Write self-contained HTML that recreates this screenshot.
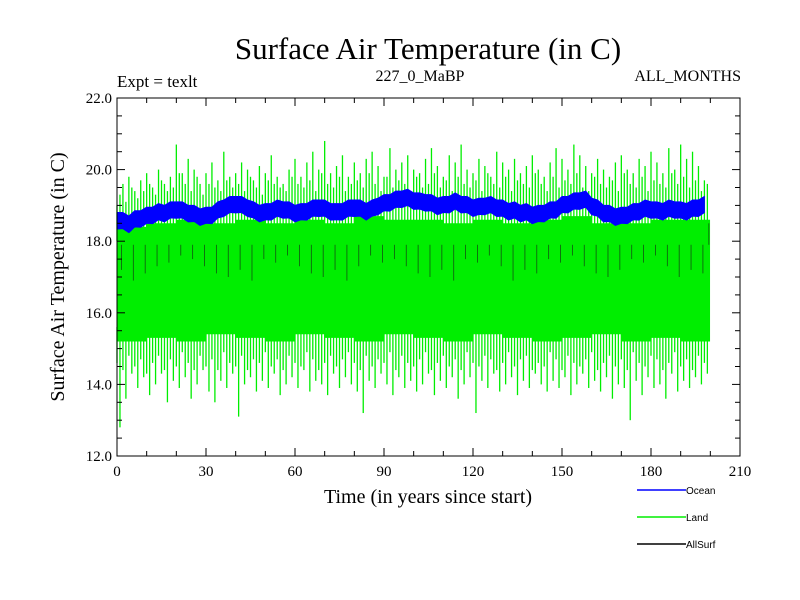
<!DOCTYPE html>
<html><head><meta charset="utf-8"><style>
html,body{margin:0;padding:0;background:#fff;}
svg{display:block;}
text{font-family:"Liberation Serif",serif;fill:#000;}
.leg{font-family:"Liberation Sans",sans-serif;font-size:10px;}
</style></head><body>
<svg id="chart" width="800" height="600" viewBox="0 0 800 600">
<text x="428" y="59" font-size="31" text-anchor="middle">Surface Air Temperature (in C)</text>
<text x="117" y="87" font-size="17">Expt = texlt</text>
<text x="420" y="81" font-size="16" text-anchor="middle">227_0_MaBP</text>
<text x="741" y="81" font-size="16" text-anchor="end">ALL_MONTHS</text>
<text transform="translate(64,277) rotate(-90)" font-size="20" text-anchor="middle">Surface Air Temperature (in C)</text>
<text x="428" y="503" font-size="20" text-anchor="middle">Time (in years since start)</text>
<g id="plot"></g>
<g id="axes"></g>
<g>
<g><line x1="637" y1="490" x2="686" y2="490" stroke="#0000ff" stroke-width="1.5"/><text class="leg" x="686" y="494">Ocean</text></g>
<g><line x1="637" y1="517" x2="686" y2="517" stroke="#00ee00" stroke-width="1.5"/><text class="leg" x="686" y="521">Land</text></g>
<g><line x1="637" y1="544" x2="686" y2="544" stroke="#000" stroke-width="1.5"/><text class="leg" x="686" y="548">AllSurf</text></g>
</g>
</svg>
<script>
// 2-year bins, years 0..198
const landMax=[19.0,19.6,19.8,19.4,19.7,19.9,19.5,20.0,19.6,19.8,20.7,19.9,20.3,20.0,19.6,19.9,20.2,19.7,20.5,19.8,19.9,20.2,20.0,19.7,20.1,19.9,20.4,19.8,19.6,20.0,20.3,19.8,20.2,20.5,20.0,20.8,19.9,20.1,20.4,19.8,20.2,19.9,20.3,20.5,20.1,19.8,20.6,20.0,20.2,20.4,20.0,19.9,20.3,20.6,20.1,19.8,20.4,20.2,20.7,20.0,19.9,20.3,20.1,19.8,20.5,20.2,20.0,20.3,19.9,20.1,20.4,20.0,19.8,20.2,20.6,20.3,20.0,20.7,20.4,20.1,19.9,20.3,20.0,19.8,20.2,20.4,20.0,19.9,20.3,20.1,20.5,20.2,19.9,20.6,20.0,20.7,20.3,20.5,20.1,19.7];
const landMax2=[19.3,19.1,19.5,19.2,19.4,19.6,19.3,19.7,19.4,19.5,19.9,19.6,19.4,19.8,19.3,19.6,19.5,19.4,19.7,19.5,19.6,19.4,19.8,19.5,19.3,19.7,19.6,19.5,19.4,19.8,19.6,19.5,19.7,19.4,19.9,19.6,19.5,19.8,19.4,19.6,19.7,19.5,19.9,19.6,19.4,19.8,19.5,19.7,19.6,19.4,19.8,19.5,19.6,19.9,19.5,19.7,19.4,19.8,19.6,19.5,19.7,19.4,19.9,19.6,19.5,19.8,19.4,19.7,19.6,19.5,19.9,19.6,19.4,19.8,19.5,19.7,19.6,19.9,19.5,19.4,19.8,19.6,19.5,19.7,19.4,19.9,19.6,19.5,19.8,19.4,19.7,19.6,19.5,19.9,19.6,19.8,19.5,19.7,19.4,19.6];
const landMin=[12.8,13.6,14.3,13.9,14.2,13.7,14.0,14.3,13.5,14.1,13.9,14.2,13.6,14.0,14.4,13.8,13.5,14.1,13.9,14.3,13.1,14.0,14.2,13.8,14.1,13.9,14.3,13.7,14.0,14.2,13.9,14.4,13.8,14.1,14.0,13.7,14.3,13.9,14.2,14.0,13.8,13.2,14.1,13.9,14.3,14.0,13.7,14.2,13.9,14.1,13.8,14.0,14.3,13.7,14.1,13.9,14.2,13.6,14.0,14.2,13.2,14.1,13.9,14.3,13.8,14.0,14.2,13.7,14.1,13.9,14.3,14.0,13.8,14.1,13.9,14.2,13.7,14.0,14.3,13.9,14.1,13.8,14.2,13.6,14.0,13.9,13.0,14.1,13.7,14.2,13.9,14.0,13.6,14.3,13.8,14.1,13.9,14.2,14.0,14.3];
const landMin2=[14.6,14.4,14.8,14.5,14.7,14.3,14.6,14.8,14.4,14.7,14.5,14.9,14.6,14.4,14.8,14.5,14.7,14.4,14.9,14.6,14.5,14.8,14.4,14.7,14.6,14.9,14.5,14.7,14.4,14.8,14.6,14.5,14.9,14.7,14.4,14.6,14.8,14.5,14.7,14.9,14.6,14.4,14.8,14.5,14.7,14.6,14.9,14.4,14.8,14.6,14.5,14.7,14.9,14.4,14.6,14.8,14.5,14.7,14.4,14.9,14.6,14.5,14.8,14.7,14.4,14.6,14.9,14.5,14.7,14.8,14.4,14.6,14.5,14.9,14.7,14.4,14.8,14.6,14.5,14.7,14.9,14.4,14.6,14.8,14.5,14.7,14.4,14.9,14.6,14.5,14.8,14.7,14.4,14.6,14.9,14.5,14.7,14.4,14.8,14.6];
// 10-year bins: solid land envelope
const landLo=[15.2,15.3,15.2,15.4,15.3,15.2,15.4,15.3,15.2,15.4,15.3,15.2,15.4,15.3,15.2,15.3,15.4,15.2,15.3,15.2];
const landHi=[18.4,18.5,18.6,18.5,18.6,18.5,18.6,18.5,18.7,18.6,18.6,18.5,18.6,18.5,18.6,18.7,18.5,18.5,18.6,18.6];
const oceanMean=[18.6,18.55,18.5,18.6,18.65,18.7,18.75,18.8,18.8,18.85,18.9,18.85,18.8,18.75,18.7,18.7,18.75,18.85,18.95,19.0,19.05,19.0,18.95,18.85,18.8,18.8,18.85,18.9,18.9,18.85,18.8,18.8,18.85,18.9,18.95,18.9,18.85,18.8,18.85,18.9,18.95,18.9,18.85,18.9,19.0,19.05,19.1,19.15,19.2,19.2,19.15,19.1,19.1,19.05,19.0,19.0,19.05,19.1,19.05,19.0,18.95,18.95,19.0,19.0,18.95,18.9,18.85,18.85,18.8,18.8,18.75,18.75,18.8,18.85,18.9,19.0,19.05,19.1,19.15,19.15,19.0,18.9,18.8,18.75,18.7,18.7,18.75,18.8,18.85,18.9,18.9,18.85,18.85,18.9,18.9,18.85,18.85,18.9,18.95,19.0];
const allMin=[17.2,17.4,16.9,17.6,17.1,17.5,17.3,16.8,17.4,17.0,17.6,17.2,17.5,16.9,17.3,17.6,17.1,17.4,17.0,17.5,17.2,17.6,16.9,17.3,17.5,17.0,17.4,17.2,17.6,16.9,17.3,17.5,17.1,17.4,17.0,17.6,17.2,17.4,16.9,17.5,17.3,17.1,17.6,17.0,17.4,17.2,17.5,16.9,17.3,17.6,17.1,17.4,17.0,17.5,17.2,17.6,16.9,17.3,17.5,17.1,17.4,17.2,17.6,17.0,17.3,17.5,16.9,17.4,17.2,17.6,17.1,17.3,17.5,17.0,17.4,17.2,17.6,16.9,17.3,17.5,17.1,17.4,17.0,17.6,17.2,17.3,17.5,16.9,17.4,17.1,17.6,17.2,17.3,17.5,17.0,17.4,17.2,17.6,17.1,18.5];
const xTicks=[0,30,60,90,120,150,180,210];
const yTicks=[12.0,14.0,16.0,18.0,20.0,22.0];

const X0=117,X1=740,Y0=456,Y1=98;
const sx=v=>X0+(v-0)/(210-0)*(X1-X0);
const sy=v=>Y0-(v-12)/(22-12)*(Y0-Y1);
const NS='http://www.w3.org/2000/svg';
const plot=document.getElementById('plot'), axes=document.getElementById('axes');
function mk(tag,attrs,parent){const e=document.createElementNS(NS,tag);for(const k in attrs)e.setAttribute(k,attrs[k]);parent.appendChild(e);return e;}

// land envelope band
let pts=[];
landLo.forEach((v,i)=>{pts.push(sx(Math.min(i*10,199.9))+','+sy(v));pts.push(sx(Math.min(i*10+10,199.9))+','+sy(v));});
for(let i=landHi.length-1;i>=0;i--){pts.push(sx(Math.min(i*10+10,199.9))+','+sy(landHi[i]));pts.push(sx(Math.min(i*10,199.9))+','+sy(landHi[i]));}
const band=mk('polygon',{points:pts.join(' '),fill:'#00ee00'},plot);



// allsurf spikes (behind land)
allMin.forEach((v,i)=>{
  if(i%2 && i!==allMin.length-1) return;
  const yr=i*2+1.5;
  const l=mk('line',{x1:sx(yr),x2:sx(yr),y1:sy(v),y2:sy(17.9),stroke:'#115511','stroke-width':0.8},plot);
  
  
});

// land spikes
landMax.forEach((v,i)=>{
  const yr=i*2;
  const specs=[[yr,v,18.0],[yr+1,landMax2[i],18.0]];
  specs.forEach(s=>{
    const l=mk('line',{x1:sx(s[0]),x2:sx(s[0]),y1:sy(s[1]),y2:sy(s[2]),stroke:'#00ee00','stroke-width':1.3},plot);
    
    
  });
  const lows=[[yr+1,landMin[i]],[yr,landMin2[i]]];
  lows.forEach(s=>{
    const l2=mk('line',{x1:sx(s[0]),x2:sx(s[0]),y1:sy(s[1]),y2:sy(15.6),stroke:'#00ee00','stroke-width':1.3},plot);
    
    
  });
});
// ocean band
let op=[];
oceanMean.forEach((v,i)=>op.push(sx(i*2)+','+sy(v+0.2+(i%2?0.05:0))));
for(let i=oceanMean.length-1;i>=0;i--)op.push(sx(i*2)+','+sy(oceanMean[i]-0.2-(i%2?0:0.06)));
const ocean=mk('polygon',{points:op.join(' '),fill:'#0000ff',stroke:'#0000ff','stroke-width':1,'stroke-linejoin':'round'},plot);



// frame
const fr=mk('rect',{x:X0,y:Y1,width:X1-X0,height:Y0-Y1,fill:'none',stroke:'#000','stroke-width':1},axes);


for(let v=0;v<=210;v+=10){
  const major=v%30===0, L=major?8:5;
  mk('line',{x1:sx(v),x2:sx(v),y1:Y0,y2:Y0-L,stroke:'#000'},axes);
  mk('line',{x1:sx(v),x2:sx(v),y1:Y1,y2:Y1+L,stroke:'#000'},axes);
}
xTicks.forEach(v=>{
  const t=mk('text',{x:sx(v),y:Y0+20,'font-size':15,'text-anchor':'middle'},axes);t.textContent=v;
  
  
});
for(let v=12;v<=22.001;v+=0.5){
  const major=Math.abs(v-Math.round(v/2)*2)<0.01, L=major?8:5;
  mk('line',{x1:X0,x2:X0+L,y1:sy(v),y2:sy(v),stroke:'#000'},axes);
  mk('line',{x1:X1,x2:X1-L,y1:sy(v),y2:sy(v),stroke:'#000'},axes);
}
yTicks.forEach(v=>{
  const t=mk('text',{x:X0-5,y:sy(v)+5,'font-size':15,'text-anchor':'end'},axes);t.textContent=v.toFixed(1);
  
  
});
</script>
</body></html>
